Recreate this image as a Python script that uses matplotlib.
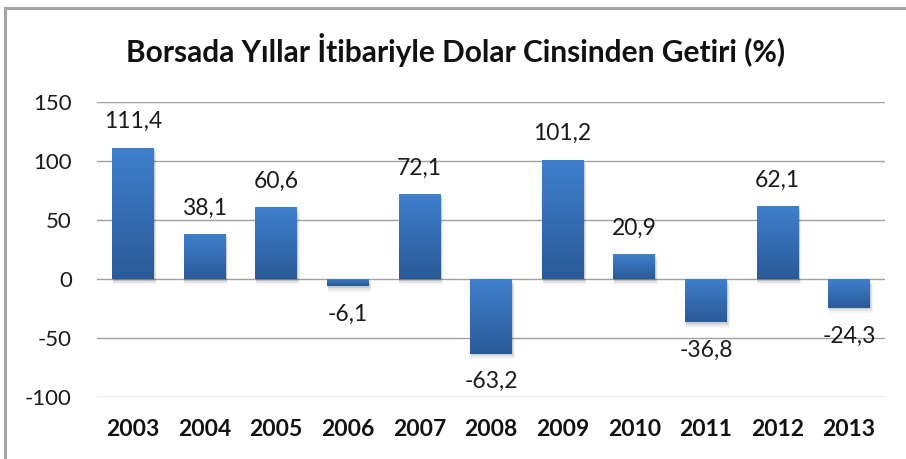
import matplotlib.pyplot as plt
import numpy as np
from matplotlib.colors import LinearSegmentedColormap
from matplotlib.patches import Rectangle

plt.rcParams['font.family'] = ['Lato', 'DejaVu Sans']

# data
years = ['2003', '2004', '2005', '2006', '2007', '2008', '2009', '2010', '2011', '2012', '2013']
returns = [111.4, 38.1, 60.6, -6.1, 72.1, -63.2, 101.2, 20.9, -36.8, 62.1, -24.3]
yticks = [-100, -50, 0, 50, 100, 150]
title = 'Borsada Yıllar İtibariyle Dolar Cinsinden Getiri (%)'

fig = plt.figure(figsize=(9.06, 4.59), dpi=100)
W, H = 906, 459

# outer chart frame (only left and top visible in the crop)
fig.add_artist(plt.Line2D([5 / W, 5 / W], [0, 1 - 8 / H], color='#a6a6a6', lw=2.2))
fig.add_artist(plt.Line2D([5 / W, 1], [1 - 8 / H, 1 - 8 / H], color='#a6a6a6', lw=2.2))

ax = fig.add_axes([97 / W, 1 - 397 / H, (885 - 97) / W, (397 - 102) / H])

ax.set_yticks(yticks)
ax.set_yticklabels([str(t) for t in yticks], fontsize=16, color='#1a1a1a')
ax.yaxis.grid(True, color='#a0a0a0', lw=1.0)
ax.set_axisbelow(True)
ax.tick_params(axis='y', length=0, pad=18)
ax.tick_params(axis='x', length=0, pad=16)
ax.set_xticks(range(len(years)))
ax.set_xticklabels(years, fontsize=16.5, fontweight='bold', color='#111111')
for s in ax.spines.values():
    s.set_visible(False)

cmap = LinearSegmentedColormap.from_list('bar', ['#2a5a98', '#3f80cd'])
grad = np.linspace(0, 1, 256).reshape(-1, 1)
bw = 0.58

bars = ax.bar(range(len(years)), returns, width=bw, color='none', edgecolor='none', zorder=3)
for i, (b, v) in enumerate(zip(bars, returns)):
    x0 = b.get_x()
    lo, hi = min(0, v), max(0, v)
    # soft shadow
    for k, a in enumerate([0.10, 0.07, 0.04]):
        ax.add_patch(Rectangle((x0 + 0.01, lo - 1.5 * (k + 1)), bw + 0.01 * (k + 1), hi - lo,
                               facecolor='#000000', alpha=a, edgecolor='none', zorder=2))
    im = ax.imshow(grad, extent=[x0, x0 + bw, lo, hi], origin='lower', cmap=cmap,
                   aspect='auto', zorder=3)
    im.set_clip_path(b)
    lbl = f'{v:.1f}'.replace('.', ',')
    if v >= 0:
        ax.text(i, v + 13, lbl, ha='center', va='bottom', fontsize=16.5,
                color='#1a1a1a', zorder=5)
    else:
        ax.text(i, v - 15, lbl, ha='center', va='top', fontsize=16.5,
                color='#1a1a1a', zorder=5)

ax.set_xlim(-0.5, len(years) - 0.5)
ax.set_ylim(-100, 150)

fig.text(456 / W, 1 - 50 / H, title, ha='center', va='center', fontsize=21.5,
         fontweight='bold', color='#111111')

fig.savefig('out.png', dpi=100)
